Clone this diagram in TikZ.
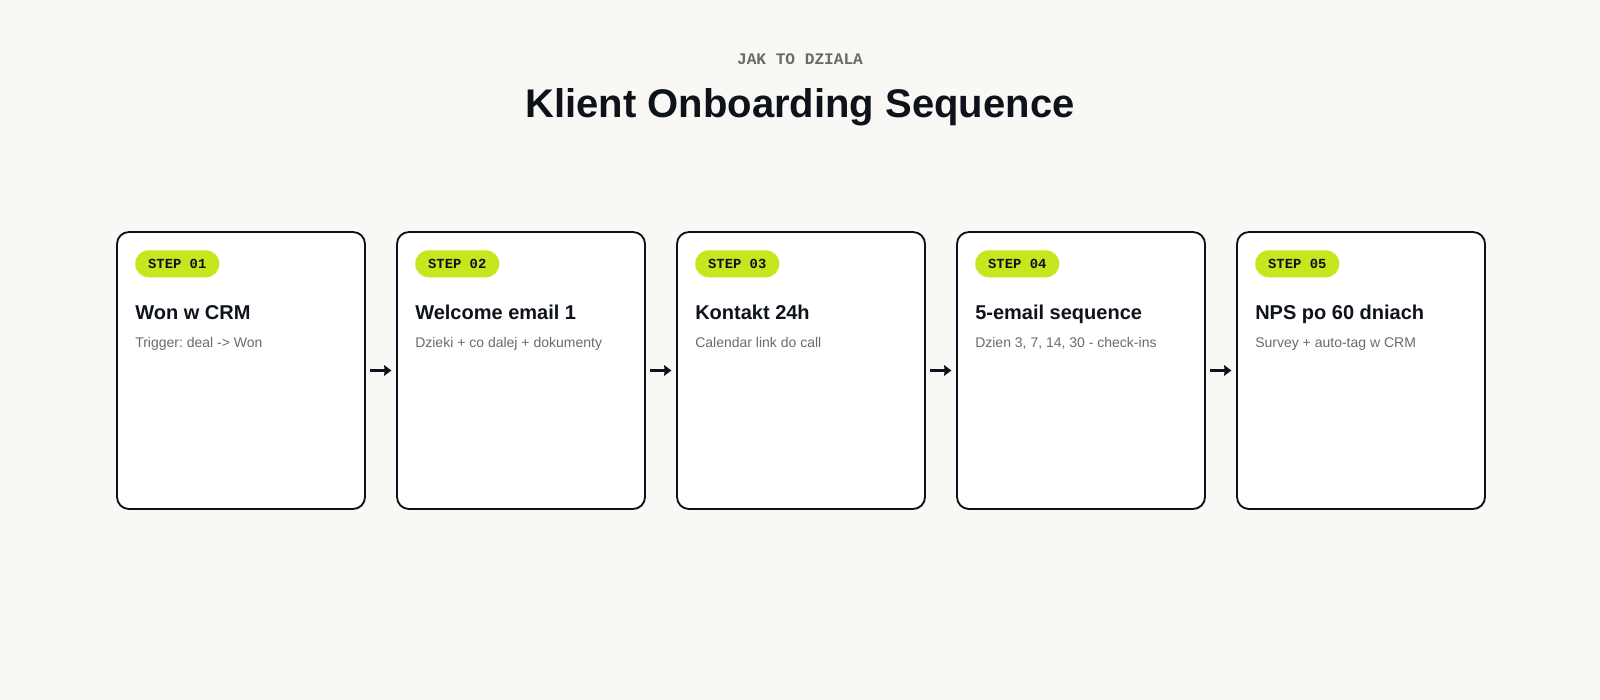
\documentclass[tikz,border=0pt]{standalone}
\usepackage{fontspec}
\setmainfont{Liberation Sans}
\setmonofont{Liberation Mono}
\usetikzlibrary{positioning, arrows.meta}
\definecolor{Paper}{HTML}{F9F8F5}
\definecolor{Ink}{HTML}{0E121B}
\definecolor{Lime}{HTML}{C8E61E}
\definecolor{Muted}{HTML}{6B6B66}
\frenchspacing
\tikzset{
  stepbox/.style={draw=Ink, line width=1.4pt, fill=white, rounded corners=9pt,
    minimum width=186pt, minimum height=207.75pt, inner sep=0pt, outer sep=0pt},
  badge/.style={fill=Lime, rounded corners=10pt, minimum width=63pt,
    minimum height=20.25pt, inner sep=0pt, text=Ink,
    font=\ttfamily\bfseries\fontsize{10.4}{12}\selectfont},
  steptitle/.style={anchor=base west, inner sep=0pt, text=Ink,
    font=\bfseries\fontsize{15}{18}\selectfont},
  stepnote/.style={anchor=base west, inner sep=0pt, text=Muted,
    font=\fontsize{10.5}{12}\selectfont},
  flow/.style={draw=Ink, line width=2pt, -{Stealth[length=5.5pt,width=8pt,inset=0.5pt]},
    shorten <=4pt, shorten >=4.2pt}
}
\begin{document}
\begin{tikzpicture}[x=0.75pt, y=-0.75pt]

    % page
    \fill[Paper] (0,0) rectangle (1600,700);
    \useasboundingbox (0,0) rectangle (1600,700);

    % heading
    \node[anchor=base, inner sep=0pt, text=Muted,
        font=\ttfamily\bfseries\fontsize{12.1}{14}\selectfont] (kicker) at (800,64) {JAK TO DZIALA};
    \node[anchor=base, inner sep=0pt, text=Ink,
        font=\bfseries\fontsize{30}{36}\selectfont] (title) at (800,117) {Klient Onboarding Sequence};

    % step boxes
    \node[stepbox, anchor=north west] (box1) at (117,232) {};
    \node[stepbox, right=24pt of box1] (box2) {};
    \node[stepbox, right=24pt of box2] (box3) {};
    \node[stepbox, right=24pt of box3] (box4) {};
    \node[stepbox, right=24pt of box4] (box5) {};

    % badges
    \node[badge, below right=13.5pt and 13.5pt of box1.north west] (tag1) {STEP 01};
    \node[badge, below right=13.5pt and 13.5pt of box2.north west] (tag2) {STEP 02};
    \node[badge, below right=13.5pt and 13.5pt of box3.north west] (tag3) {STEP 03};
    \node[badge, below right=13.5pt and 13.5pt of box4.north west] (tag4) {STEP 04};
    \node[badge, below right=13.5pt and 13.5pt of box5.north west] (tag5) {STEP 05};

    % titles
    \node[steptitle] (head1) at ([xshift=13.5pt, yshift=-65.3pt]box1.north west) {Won w CRM};
    \node[steptitle] (head2) at ([xshift=13.5pt, yshift=-65.3pt]box2.north west) {Welcome email 1};
    \node[steptitle] (head3) at ([xshift=13.5pt, yshift=-65.3pt]box3.north west) {Kontakt 24h};
    \node[steptitle] (head4) at ([xshift=13.5pt, yshift=-65.3pt]box4.north west) {5-email sequence};
    \node[steptitle] (head5) at ([xshift=13.5pt, yshift=-65.3pt]box5.north west) {NPS po 60 dniach};

    % notes
    \node[stepnote] (note1) at ([xshift=13.5pt, yshift=-86.3pt]box1.north west) {Trigger: deal -> Won};
    \node[stepnote] (note2) at ([xshift=13.5pt, yshift=-86.3pt]box2.north west) {Dzieki + co dalej + dokumenty};
    \node[stepnote] (note3) at ([xshift=13.5pt, yshift=-86.3pt]box3.north west) {Calendar link do call};
    \node[stepnote] (note4) at ([xshift=13.5pt, yshift=-86.3pt]box4.north west) {Dzien 3, 7, 14, 30 - check-ins};
    \node[stepnote] (note5) at ([xshift=13.5pt, yshift=-86.3pt]box5.north west) {Survey + auto-tag w CRM};

    % arrows
    \draw[flow] (box1) -- (box2);
    \draw[flow] (box2) -- (box3);
    \draw[flow] (box3) -- (box4);
    \draw[flow] (box4) -- (box5);

\end{tikzpicture}
\end{document}
